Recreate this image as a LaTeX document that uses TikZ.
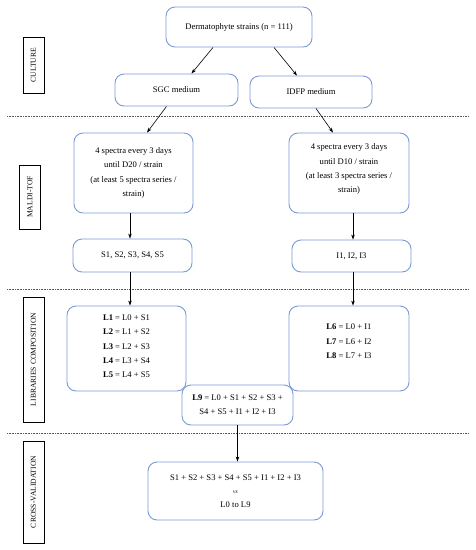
\documentclass[tikz,border=0pt]{standalone}
\usepackage{fontspec}
\setmainfont{Liberation Serif}
\usetikzlibrary{calc,arrows.meta}
\definecolor{boxblue}{RGB}{125,155,210}
\begin{document}
\begin{tikzpicture}[x=1pt,y=-1pt,
  every node/.style={font=\fontsize{8.6}{14.3}\selectfont},
  box/.style={draw=boxblue, line width=0.9pt, rounded corners=9pt, align=center, inner sep=0pt},
  sect/.style={draw=black, line width=0.8pt, rotate=90, inner sep=0pt, minimum height=21, font=\fontsize{7.6}{8}\selectfont},
  arr/.style={-{Stealth[length=5pt,width=3.5pt]}, line width=0.6pt},
  sep/.style={line width=0.6pt, dash pattern=on 1pt off 0.6pt, gray!70!black}
]
\useasboundingbox (0,0) rectangle (475,550);
\fill[white] (0,0) rectangle (475,550);

% section separators
\draw[sep] (7,116) -- (468,116);
\draw[sep] (7,289) -- (468,289);
\draw[sep] (7,433) -- (468,433);

% section labels
\node[sect, minimum width=56] (cult) at (33.5,65) {CULTURE};
\node[sect, minimum width=64] (maldi) at (30,197) {MALDI-TOF};
\node[sect, minimum width=125] (lib) at (33.5,359.5) {LIBRARIES COMPOSITION};
\node[sect, minimum width=102] (cv) at (33.5,492) {CROSS-VALIDATION};

% boxes
\node[box, minimum width=146, minimum height=40] (top) at (239,27) {Dermatophyte strains (n = 111)};
\node[box, minimum width=123, minimum height=32] (sgc) at (176.5,90) {SGC medium};
\node[box, minimum width=122, minimum height=32] (idfp) at (311,92) {IDFP medium};

\node[box, minimum width=119, minimum height=80] (spl) at (133.5,173) {4 spectra every 3 days\\until D20 / strain\\(at least 5 spectra series /\\strain)};
\node[box, minimum width=120, minimum height=80] (spr) at (349,173) {4 spectra every 3 days\\until D10 / strain\\(at least 3 spectra series /\\strain)\\[-5pt]\mbox{}};

\node[box, minimum width=119, minimum height=33] (sser) at (132.5,255.5) {S1, S2, S3, S4, S5};
\node[box, minimum width=119, minimum height=32] (iser) at (351.5,256) {I1, I2, I3};

\node[box, minimum width=119, minimum height=85] (l15) at (126.5,348.5) {\textbf{L1} = L0 + S1\\\textbf{L2} = L1 + S2\\\textbf{L3} = L2 + S3\\\textbf{L4} = L3 + S4\\\textbf{L5} = L4 + S5\\[-10pt]\mbox{}};
\node[box, minimum width=120, minimum height=85] (l68) at (349,348.5) {\textbf{L6} = L0 + I1\\\textbf{L7} = L6 + I2\\\textbf{L8} = L7 + I3\\\mbox{}};
\node[box, minimum width=111, minimum height=40, fill=white] (l9) at (237.5,405) {\textbf{L9} = L0 + S1 + S2 + S3 +\\S4 + S5 + I1 + I2 + I3};

\node[box, minimum width=175, minimum height=58] (cvbox) at (235.5,491) {S1 + S2 + S3 + S4 + S5 + I1 + I2 + I3\\[-1pt]{\fontsize{5.5}{6}\selectfont\textit{vs}}\\[-1pt]L0 to L9};

% connectors
\draw[arr] ($(top.south)+(-26,0)$) -- ($(sgc.north)+(15,0)$);
\draw[arr] ($(top.south)+(35,0)$) -- ($(idfp.north)+(-14,0)$);
\draw[arr] ($(sgc.south)+(-10,0)$) -- ($(spl.north)+(13.5,0)$);
\draw[arr] ($(idfp.south)+(5,0)$) -- ($(spr.north)+(-16,0)$);
\draw[arr] ($(spl.south)+(-3.5,0)$) -- ($(sser.north)+(-2.5,0)$);
\draw[arr] ($(spr.south)+(4,0)$) -- ($(iser.north)+(1.5,0)$);
\draw[arr] ($(sser.south)+(-2.5,0)$) -- ($(l15.north)+(3.5,0)$);
\draw[arr] ($(iser.south)+(1.5,0)$) -- ($(l68.north)+(4,0)$);
\draw[arr] (l9.south) -- ($(cvbox.north)+(2,0)$);
\end{tikzpicture}
\end{document}
